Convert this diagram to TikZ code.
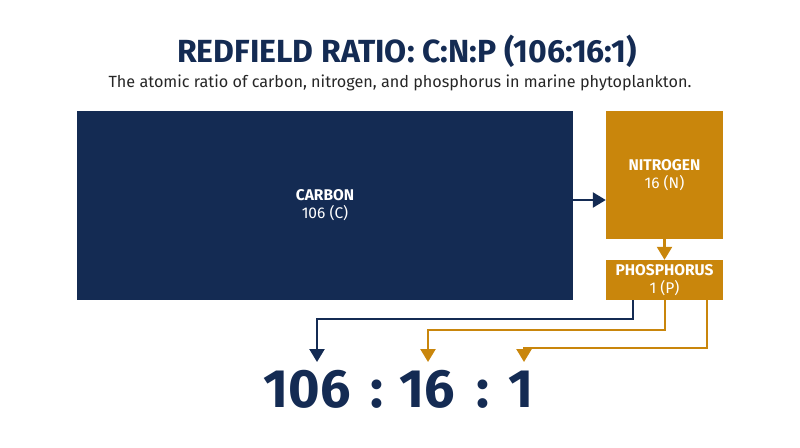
\documentclass[tikz,border=0pt]{standalone}
\usepackage{fontspec}
\setmainfont{Fira Sans}
\usetikzlibrary{arrows.meta,calc}
\definecolor{navy}{HTML}{142B53}
\definecolor{ochre}{HTML}{C9860C}
\tikzset{
  box/.style={draw=none, inner sep=0pt, text=white, align=center, font=\fontsize{15.5}{18}\selectfont},
  link/.style={line width=2.4pt, -{Triangle[length=13pt,width=15pt]}},
  num/.style={text=navy, anchor=base, inner sep=0pt, font=\fontsize{54}{60}\selectfont\bfseries},
}
\begin{document}
\begin{tikzpicture}[x=1pt,y=-1pt]
\useasboundingbox (0,0) rectangle (800,447);
\node[text=navy, anchor=base, font=\fontsize{32}{36}\selectfont\bfseries] (title) at (407,62) {REDFIELD RATIO: C:N:P (106:16:1)};
\node[text=black!85, anchor=base, font=\fontsize{16.2}{19}\selectfont] (sub) at (400,87) {The atomic ratio of carbon, nitrogen, and phosphorus in marine phytoplankton.};
\node[box, fill=navy, minimum width=496pt, minimum height=189pt] (C) at (325,205.5) {\textbf{CARBON}\\106 (C)};
\node[box, fill=ochre, minimum width=117pt, minimum height=128pt] (N) at (664.5,175) {\textbf{NITROGEN}\\16 (N)};
\node[box, fill=ochre, minimum width=117pt, minimum height=40pt] (P) at (664.5,280) {\textbf{PHOSPHORUS}\\1 (P)};
\draw[link, navy] (C.east |- 0,200) -- (N.west |- 0,200);
\draw[link, ochre] (N.south) -- (P.north);
\node[num] (n106) at (307,407) {106};
\node[num] (c1) at (377,407) {:};
\node[num] (n16) at (427,407) {16};
\node[num] (c2) at (483,407) {:};
\node[num] (n1) at (521,407) {1};
\coordinate (t1) at (317,362);
\coordinate (t2) at (428,362);
\coordinate (t3) at (524,362);
\draw[link, navy] (P.south -| 633,0) |- (317,319) -- (t1);
\draw[link, ochre] (P.south -| 665,0) |- (428,330) -- (t2);
\draw[link, ochre] (P.south -| 707,0) |- (524,348) -- (t3);
\end{tikzpicture}
\end{document}
